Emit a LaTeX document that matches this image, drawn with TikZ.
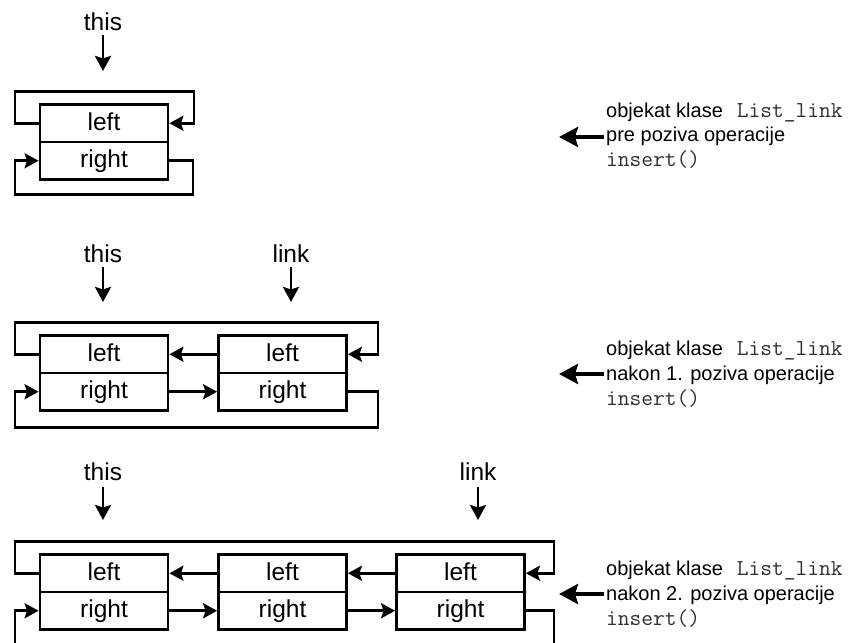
\documentclass[tikz,border=0pt]{standalone}
\usepackage{fontspec}
\setmainfont{Liberation Sans}
\usetikzlibrary{arrows.meta}
\newcommand{\labfont}{\fontsize{24.5}{29}\selectfont}
\newcommand{\notefont}{\fontsize{20}{25}\selectfont}
\newcommand{\monofont}{\fontsize{22.8}{25}\selectfont\ttfamily}
\definecolor{monogray}{HTML}{303030}
\begin{document}
\begin{tikzpicture}[x=1pt,y=-1pt,
  cell/.style={draw, line width=2.8pt, minimum width=128pt, minimum height=37.5pt,
    inner sep=0pt, font=\labfont, text height=18.5pt, text depth=5pt},
  conn/.style={line width=2.8pt, -{Stealth[length=14pt,width=15pt,inset=2.5pt]}},
  ptr/.style={line width=2.8pt, -{Stealth[length=15pt,width=16pt,inset=2.5pt]}},
  bigarrow/.style={line width=4pt, -{Stealth[length=19pt,width=20pt,inset=3pt]}},
  lbl/.style={font=\labfont, inner sep=0pt, anchor=base},
  note/.style={font=\notefont, inner sep=0pt, anchor=base west},
  mono/.style={font=\monofont, text=monogray}
]
\useasboundingbox (0,0) rectangle (855,643);
\clip (0,0) rectangle (855,643);

% ---------------- Diagram 1 ----------------
\node[lbl] (this1) at (103,30) {this};
\coordinate (t1s) at (103,35);
\coordinate (t1e) at (103,71);
\draw[ptr] (t1s) -- (t1e);

\node[cell] (L1a) at (104,123.25) {left};
\node[cell] (R1a) at (104,160.75) {right};

\coordinate (d1tl) at (15,91.7);
\coordinate (d1tr) at (194,91.7);
\coordinate (d1bl) at (15,194.3);
\coordinate (d1br) at (193,194.3);
\draw[conn] (L1a.west) -| (d1tl) -| (d1tr) |- (L1a.east);
\draw[conn] (R1a.east) -| (d1br) -| (d1bl) |- (R1a.west);

\node[note] (n1a) at (606,117) {objekat klase\hspace{14pt}{\monofont\color{monogray}List\_link}};
\node[note] (n1b) at (606,141.5) {pre poziva operacije};
\node[note,mono] (n1c) at (606,166) {insert()};
\coordinate (a1s) at (604,137);
\coordinate (a1e) at (559,137);
\draw[bigarrow] (a1s) -- (a1e);

% ---------------- Diagram 2 ----------------
\node[lbl] (this2) at (103,262) {this};
\coordinate (t2s) at (103,267);
\coordinate (t2e) at (103,302);
\draw[ptr] (t2s) -- (t2e);
\node[lbl] (link2) at (291,262) {link};
\coordinate (k2s) at (291,267);
\coordinate (k2e) at (291,302);
\draw[ptr] (k2s) -- (k2e);

\node[cell] (L2a) at (104,354.25) {left};
\node[cell] (R2a) at (104,391.75) {right};
\node[cell] (L2b) at (282.5,354.25) {left};
\node[cell] (R2b) at (282.5,391.75) {right};
\draw[conn] (L2b.west) -- (L2a.east);
\draw[conn] (R2a.east) -- (R2b.west);

\coordinate (d2tl) at (15,322.7);
\coordinate (d2tr) at (378,322.7);
\coordinate (d2bl) at (15,427.5);
\coordinate (d2br) at (378,427.5);
\draw[conn] (L2a.west) -| (d2tl) -| (d2tr) |- (L2b.east);
\draw[conn] (R2b.east) -| (d2br) -| (d2bl) |- (R2a.west);

\node[note] (n2a) at (606,355) {objekat klase\hspace{14pt}{\monofont\color{monogray}List\_link}};
\node[note] (n2b) at (606,380) {nakon 1. poziva operacije};
\node[note,mono] (n2c) at (606,405) {insert()};
\coordinate (a2s) at (604,374);
\coordinate (a2e) at (559,374);
\draw[bigarrow] (a2s) -- (a2e);

% ---------------- Diagram 3 ----------------
\node[lbl] (this3) at (103,480) {this};
\coordinate (t3s) at (103,487);
\coordinate (t3e) at (103,520);
\draw[ptr] (t3s) -- (t3e);
\node[lbl] (link3) at (478,480) {link};
\coordinate (k3s) at (478,487);
\coordinate (k3e) at (478,520);
\draw[ptr] (k3s) -- (k3e);

\node[cell] (L3a) at (104,573.25) {left};
\node[cell] (R3a) at (104,610.75) {right};
\node[cell] (L3b) at (282.5,573.25) {left};
\node[cell] (R3b) at (282.5,610.75) {right};
\node[cell] (L3c) at (460.5,573.25) {left};
\node[cell] (R3c) at (460.5,610.75) {right};
\draw[conn] (L3b.west) -- (L3a.east);
\draw[conn] (L3c.west) -- (L3b.east);
\draw[conn] (R3a.east) -- (R3b.west);
\draw[conn] (R3b.east) -- (R3c.west);

\coordinate (d3tl) at (15,541.7);
\coordinate (d3tr) at (554,541.7);
\coordinate (d3bl) at (15,647);
\coordinate (d3br) at (554,647);
\draw[conn] (L3a.west) -| (d3tl) -| (d3tr) |- (L3c.east);
\draw[conn] (R3c.east) -| (d3br) -| (d3bl) |- (R3a.west);

\node[note] (n3a) at (606,575) {objekat klase\hspace{14pt}{\monofont\color{monogray}List\_link}};
\node[note] (n3b) at (606,600) {nakon 2. poziva operacije};
\node[note,mono] (n3c) at (606,625) {insert()};
\coordinate (a3s) at (604,594);
\coordinate (a3e) at (559,594);
\draw[bigarrow] (a3s) -- (a3e);
\end{tikzpicture}
\end{document}
